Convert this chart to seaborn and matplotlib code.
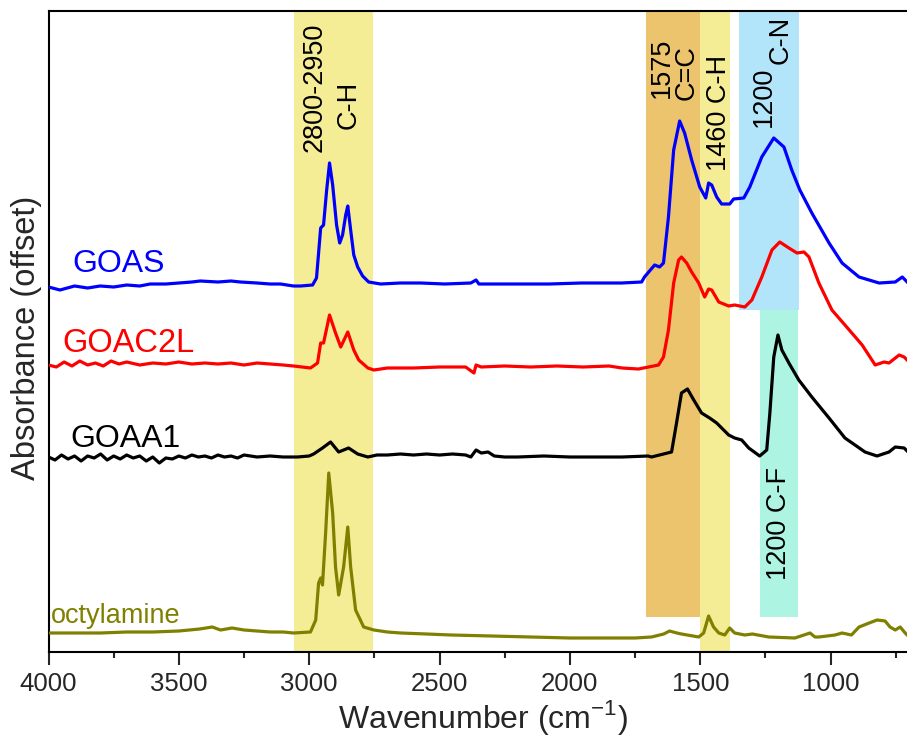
import numpy as np
import pandas as pd
import matplotlib
matplotlib.use("Agg")
import matplotlib.pyplot as plt
from matplotlib.ticker import MultipleLocator
import seaborn as sns

# ---- FTIR spectra (wavenumber in cm^-1, absorbance with vertical offset, a.u.) ----
goas_wn = [4000, 3956, 3900, 3850, 3802, 3750, 3700, 3650, 3610, 3550, 3500, 3450,
           3418, 3350, 3300, 3264, 3200, 3150, 3110, 3060, 3033, 2987, 2972, 2956,
           2945, 2933, 2922, 2910, 2895, 2883, 2872, 2860, 2852, 2841, 2829, 2814,
           2795, 2772, 2726, 2650, 2572, 2480, 2380, 2360, 2349, 2270, 2187, 2080,
           1956, 1880, 1802, 1725, 1714, 1675, 1656, 1641, 1622, 1602, 1579, 1560,
           1533, 1502, 1479, 1468, 1456, 1437, 1418, 1387, 1372, 1333, 1310, 1264,
           1218, 1179, 1149, 1118, 1072, 1006, 956, 891, 814, 752, 725, 699]
goas_abs = [365, 362, 366, 364, 366, 365, 367, 366, 368, 368, 369, 370,
            371, 370, 371, 370, 369, 368, 368, 366, 366, 367, 374, 424,
            427, 462, 489, 467, 427, 409, 417, 437, 446, 422, 397, 385,
            376, 370, 368, 369, 369, 368, 369, 372, 368, 368, 368, 368,
            369, 369, 369, 370, 375, 387, 385, 389, 435, 502, 531, 519,
            492, 465, 454, 469, 467, 455, 448, 448, 453, 454, 465, 495,
            514, 505, 482, 462, 439, 409, 389, 375, 369, 370, 375, 368]

goac2l_wn = [4000, 3970, 3940, 3910, 3880, 3850, 3820, 3790, 3760, 3730, 3700, 3650,
             3600, 3550, 3500, 3450, 3400, 3350, 3300, 3250, 3200, 3150, 3100, 3060,
             2995, 2968, 2956, 2945, 2922, 2899, 2879, 2852, 2829, 2810, 2775, 2752,
             2700, 2600, 2500, 2400, 2368, 2360, 2340, 2250, 2150, 2050, 1950, 1850,
             1800, 1737, 1660, 1641, 1622, 1602, 1583, 1572, 1552, 1533, 1506, 1483,
             1468, 1456, 1429, 1391, 1368, 1329, 1302, 1264, 1225, 1195, 1160, 1129,
             1102, 1083, 1045, 995, 945, 879, 829, 795, 776, 737, 718, 699]
goac2l_abs = [287, 285, 290, 286, 291, 287, 289, 286, 291, 288, 290, 287,
              289, 288, 290, 288, 289, 288, 289, 287, 289, 288, 287, 286,
              284, 289, 309, 309, 337, 319, 305, 320, 302, 292, 284, 282,
              284, 284, 285, 285, 279, 287, 285, 286, 285, 286, 285, 286,
              284, 283, 287, 295, 322, 369, 392, 395, 389, 380, 369, 355,
              363, 362, 350, 346, 347, 345, 352, 375, 402, 410, 404, 399,
              400, 395, 369, 342, 327, 307, 287, 290, 289, 297, 295, 290]

goaa1_wn = [4000, 3975, 3950, 3925, 3900, 3875, 3850, 3825, 3800, 3775, 3750, 3725,
            3700, 3675, 3650, 3625, 3600, 3575, 3550, 3525, 3500, 3475, 3450, 3425,
            3400, 3375, 3350, 3325, 3300, 3275, 3250, 3200, 3150, 3100, 3045, 3000,
            2983, 2949, 2918, 2887, 2849, 2814, 2775, 2740, 2700, 2650, 2600, 2550,
            2500, 2450, 2400, 2380, 2360, 2340, 2314, 2290, 2250, 2200, 2100, 2000,
            1900, 1800, 1700, 1687, 1610, 1591, 1572, 1549, 1525, 1495, 1464, 1437,
            1391, 1368, 1341, 1314, 1272, 1245, 1233, 1218, 1202, 1187, 1160, 1122,
            1072, 1006, 945, 868, 822, 776, 752, 718, 699]
goaa1_abs = [195, 192, 197, 193, 196, 191, 196, 194, 198, 192, 196, 193,
             197, 194, 196, 191, 195, 189, 194, 193, 196, 194, 197, 195,
             196, 194, 197, 195, 196, 194, 197, 195, 196, 195, 195, 196,
             198, 204, 210, 200, 204, 198, 195, 197, 197, 198, 197, 198,
             197, 198, 197, 195, 202, 199, 200, 196, 195, 195, 196, 195,
             195, 195, 196, 195, 200, 229, 259, 263, 252, 239, 234, 229,
             217, 214, 212, 204, 196, 202, 239, 295, 317, 302, 289, 272,
             255, 234, 214, 200, 196, 200, 205, 204, 199]

octyl_wn = [4000, 3900, 3800, 3700, 3600, 3500, 3420, 3372, 3340, 3296, 3250, 3200,
            3150, 3100, 3060, 2995, 2975, 2964, 2956, 2949, 2937, 2925, 2910, 2899,
            2887, 2868, 2852, 2841, 2822, 2791, 2752, 2700, 2649, 2550, 2456, 2300,
            2150, 2000, 1879, 1750, 1687, 1640, 1618, 1590, 1572, 1506, 1487, 1468,
            1449, 1429, 1406, 1387, 1368, 1329, 1300, 1237, 1137, 1079, 1060, 1045,
            983, 956, 920, 891, 852, 822, 791, 772, 752, 733, 714, 699]
octyl_abs = [19, 19, 19, 20, 20, 21, 23, 25, 22, 24, 22, 21,
             20, 20, 19, 20, 32, 69, 74, 67, 119, 179, 139, 85,
             57, 85, 125, 85, 42, 25, 22, 20, 19, 18, 17, 16,
             15, 14, 14, 14, 15, 18, 21, 19, 18, 15, 19, 36,
             25, 19, 17, 24, 19, 17, 18, 15, 14, 19, 15, 15,
             17, 19, 17, 25, 29, 32, 31, 25, 22, 25, 19, 15]

series_names = ["GOAS", "GOAC2L", "GOAA1", "octylamine"]
series_colors = ["#0000FF", "#FF0000", "#000000", "#808000"]

frames = []
for name, wn, ab in [("GOAS", goas_wn, goas_abs), ("GOAC2L", goac2l_wn, goac2l_abs),
                     ("GOAA1", goaa1_wn, goaa1_abs), ("octylamine", octyl_wn, octyl_abs)]:
    frames.append(pd.DataFrame({"wavenumber": wn, "absorbance": ab, "sample": name}))
spectra = pd.concat(frames, ignore_index=True)

# ---- band assignments: (high cm^-1, low cm^-1), colour, vertical extent ----
Y_MAX = 641
band_edges = [(3060, 2755), (1710, 1500), (1500, 1385), (1350, 1120), (1270, 1125)]
band_colors = ["#F5EC96", "#EDC46E", "#F5EC96", "#B3E5FA", "#ADF5E2"]
band_ylims = [(0, Y_MAX), (35, Y_MAX), (0, Y_MAX), (342, Y_MAX), (35, 342)]

sns.set_style("ticks")
plt.rcParams["font.family"] = ["Liberation Sans", "DejaVu Sans"]
plt.rcParams["mathtext.fontset"] = "custom"
plt.rcParams["mathtext.rm"] = "Liberation Sans"

fig = plt.figure(figsize=(9.07, 7.40), dpi=100)
ax = fig.add_axes([48.5 / 907, 1 - 652 / 740, 1 - 48.5 / 907 + 0.002, (652 - 11) / 740])

for (hi, lo), col, (y0, y1) in zip(band_edges, band_colors, band_ylims):
    ax.axvspan(lo, hi, ymin=y0 / Y_MAX, ymax=y1 / Y_MAX, color=col, lw=0, zorder=0)

sns.lineplot(data=spectra, x="wavenumber", y="absorbance", hue="sample",
             hue_order=series_names, palette=series_colors, sort=False,
             estimator=None, lw=2.3, legend=False, ax=ax, zorder=3)

ax.set_xlim(4000, 700)
ax.set_ylim(0, Y_MAX)
ax.xaxis.set_major_locator(MultipleLocator(500))
ax.xaxis.set_minor_locator(MultipleLocator(250))
ax.set_yticks([])
ax.tick_params(axis="x", which="major", direction="out", length=9.5, width=1.5,
               labelsize=18.5, pad=5, top=False)
ax.tick_params(axis="x", which="minor", direction="out", length=4.5, width=1.5, top=False)
for side in ["left", "bottom", "top"]:
    ax.spines[side].set_linewidth(1.5)
    ax.spines[side].set_color("black")
ax.spines["right"].set_visible(False)

ax.set_xlabel("Wavenumber (cm$^{\\mathregular{-1}}$)", fontsize=23, labelpad=1)
ax.set_ylabel("Absorbance (offset)", fontsize=23.5, labelpad=5)
ax.xaxis.label.set_x(0.505)
ax.yaxis.label.set_y(0.49)

# sample labels
ax.text(3910, 380, "GOAS", color="#0000FF", fontsize=23, ha="left", va="baseline")
ax.text(3948, 300, "GOAC2L", color="#FF0000", fontsize=23.5, ha="left", va="baseline")
ax.text(3918, 205, "GOAA1", color="#000000", fontsize=23, ha="left", va="baseline")
ax.text(3990, 29, "octylamine", color="#808000", fontsize=19.5, ha="left", va="baseline")

# band annotations
ann = dict(rotation=90, ha="center", va="center", fontsize=19.5, color="black", zorder=4)
ax.text(2981, 565, "2800-2950", **ann)
ax.text(2847, 547, "C-H", **ann)
ax.text(1649, 584, "1575", **ann)
ax.text(1552, 579, "C=C", **ann)
ax.text(1429, 539, "1460 C-H", **ann)
ax.text(1256, 555, "1200", **ann)
ax.text(1191, 612, "C-N", **ann)
ax.text(1198, 129, "1200 C-F", **ann)

fig.savefig("out.png", dpi=100)
